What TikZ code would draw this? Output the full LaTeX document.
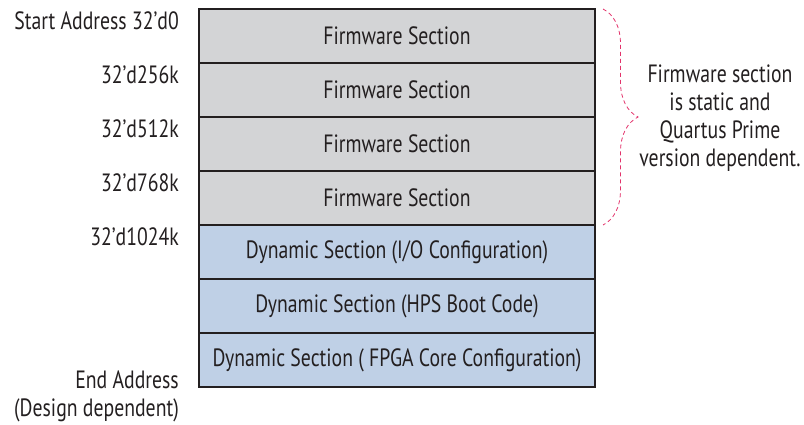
\documentclass[tikz,border=0pt]{standalone}
\usepackage{fontspec}
\setmainfont{PT Sans}[FakeStretch=0.79]
\usetikzlibrary{positioning,decorations.pathreplacing}
\definecolor{fwgray}{HTML}{D3D4D6}
\definecolor{dynblue}{HTML}{BFD0E6}
\definecolor{bracered}{HTML}{E2336B}
\definecolor{ink}{HTML}{231F20}
\tikzset{
  sect/.style={draw=ink, line width=1.1pt, minimum width=396pt, minimum height=54pt,
    inner sep=0pt, outer sep=0pt, text=ink, font=\fontsize{25}{28}\selectfont},
  fwsect/.style={sect, fill=fwgray},
  dynsect/.style={sect, fill=dynblue},
  addr/.style={anchor=east, inner sep=0pt, align=right, text=ink,
    font=\fontsize{25}{28}\selectfont},
}
\begin{document}
\begin{tikzpicture}[x=1pt,y=-1pt]
    \useasboundingbox (0,0) rectangle (804,424);
    %sections
    \node[fwsect] (fw1) at (397,36) {Firmware Section};
    \node[fwsect, below=0pt of fw1] (fw2) {Firmware Section};
    \node[fwsect, below=0pt of fw2] (fw3) {Firmware Section};
    \node[fwsect, below=0pt of fw3] (fw4) {Firmware Section};
    \node[dynsect, below=0pt of fw4] (io) {Dynamic Section (I/O Configuration)};
    \node[dynsect, below=0pt of io] (hps) {Dynamic Section (HPS Boot Code)};
    \node[dynsect, below=0pt of hps] (core) {Dynamic Section ( FPGA Core Configuration)};
    %addresses
    \node[addr] (a0) at ([xshift=-20pt,yshift=-12pt]fw1.north west) {Start Address 32'd0};
    \node[addr] (a1) at ([xshift=-20pt,yshift=-12pt]fw2.north west) {32'd256k};
    \node[addr] (a2) at ([xshift=-20pt,yshift=-12pt]fw3.north west) {32'd512k};
    \node[addr] (a3) at ([xshift=-20pt,yshift=-12pt]fw4.north west) {32'd768k};
    \node[addr] (a4) at ([xshift=-20pt,yshift=-12pt]io.north west) {32'd1024k};
    \node[addr, anchor=north east] (aend) at ([xshift=-20pt,yshift=-38pt]core.north west) {End Address\\(Design dependent)};
    %brace
    \coordinate (btop) at ([xshift=8pt]fw1.north east);
    \coordinate (bbot) at ([xshift=8pt]fw4.south east);
    \draw[bracered, line width=0.8pt, dash pattern=on 4pt off 3pt,
      decorate, decoration={brace, amplitude=35pt}] (btop) -- (bbot);
    \node[align=center, text=ink, inner sep=0pt, font=\fontsize{25}{28}\selectfont]
      (note) at (720,118) {Firmware section\\is static and\\Quartus Prime\\version dependent.};
\end{tikzpicture}
\end{document}
